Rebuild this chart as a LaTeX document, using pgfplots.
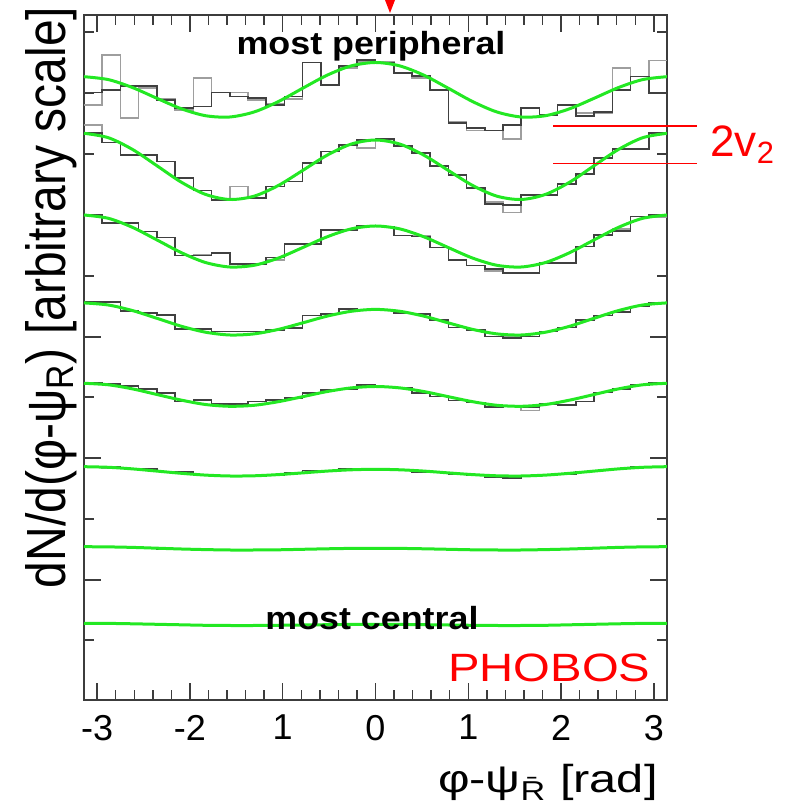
\documentclass[border=0pt]{standalone}
\usepackage{fontspec}
\setmainfont{Liberation Sans}
\usepackage{graphicx}
\usepackage{pgfplots}
\usepackage{pgfplotstable}
\pgfplotsset{compat=1.18}
\definecolor{fitgreen}{RGB}{35,232,35}
\definecolor{framegray}{RGB}{60,60,60}
\definecolor{annred}{RGB}{255,0,0}

% step histograms: left bin edges, dark (d) and light (l) histogram per centrality class
\pgfplotstableread{
x d1 l1 d2 l2 d3 l3 d4 l4 d5 l5 d6 l6 d7 l7 d8 l8
-3.1416 607.3 595.0 567.0 575.0 485.0 485.0 397.7 398.5 316.7 316.7 233.3 233.3 153.5 153.5 76.8 76.8
-2.9452 610.0 645.0 557.3 557.3 476.7 476.7 397.7 397.7 316.0 316.0 232.8 232.0 153.0 153.0 76.5 76.5
-2.7489 614.0 581.7 545.0 545.0 476.7 477.5 389.0 389.0 314.0 314.0 231.5 231.5 152.5 152.5 76.3 76.3
-2.5525 614.0 612.0 545.0 545.0 468.3 468.3 386.7 386.7 310.7 310.7 231.2 231.2 152.0 152.0 75.9 75.9
-2.3562 600.0 601.0 538.3 538.3 462.3 462.3 385.0 385.0 306.7 306.7 228.5 228.5 151.0 151.5 75.6 75.6
-2.1598 591.7 590.0 521.7 521.7 444.3 444.3 371.0 371.0 298.3 298.3 228.0 228.0 150.5 150.5 75.2 75.2
-1.9635 593.3 621.7 509.3 509.3 444.3 445.0 371.0 371.0 300.0 300.0 225.0 225.0 150.5 150.5 74.8 74.8
-1.7671 607.3 607.3 500.0 500.0 446.7 446.7 368.3 368.3 296.0 296.0 224.5 224.5 149.5 149.5 74.5 74.5
-1.5708 603.3 607.3 501.5 513.3 435.7 435.7 368.3 368.3 296.0 296.0 224.0 224.0 149.8 149.8 74.4 74.4
-1.3744 601.7 600.0 501.7 501.7 435.7 435.7 368.3 368.3 298.3 298.3 224.2 224.2 150.0 150.0 74.6 74.6
-1.1781 595.0 596.0 513.3 513.3 442.3 440.0 370.0 370.0 300.0 300.0 225.0 225.0 150.5 150.5 74.9 74.9
-0.9817 603.3 601.0 518.3 518.3 455.7 455.7 371.7 371.7 301.7 301.7 227.0 227.0 150.8 150.8 75.0 75.0
-0.7854 637.3 637.3 536.7 536.7 455.7 455.7 384.3 384.3 306.7 306.7 229.3 229.3 151.0 151.0 75.3 75.3
-0.5890 615.0 615.0 548.3 548.3 470.0 470.0 385.7 385.7 310.0 310.0 229.5 229.5 151.5 151.5 75.5 75.5
-0.3927 634.0 632.0 555.0 555.0 470.0 470.0 391.0 391.0 310.7 310.7 231.0 231.0 151.8 151.8 75.6 75.6
-0.1963 640.0 638.0 560.0 551.7 474.3 474.3 390.0 390.0 315.0 315.0 230.5 230.5 151.5 151.5 75.7 75.7
0.0000 636.7 638.0 560.7 560.7 473.3 473.3 390.0 390.0 312.7 312.7 231.0 231.0 151.8 151.8 75.7 75.7
0.1963 626.7 626.7 554.0 554.0 464.3 464.3 386.7 386.7 311.7 311.7 230.0 230.0 151.5 151.5 75.6 75.6
0.3927 624.0 622.0 546.7 546.7 463.3 464.3 385.7 385.7 306.7 306.7 228.0 228.0 151.0 151.0 75.4 75.4
0.5890 610.0 610.0 534.0 534.0 452.3 452.3 380.0 380.0 303.3 303.3 227.3 227.3 150.8 150.8 75.2 75.2
0.7854 576.7 578.0 525.0 525.0 440.0 440.0 372.3 372.3 299.3 299.3 226.0 226.0 150.5 150.5 75.0 75.0
0.9817 572.0 569.3 511.7 511.7 434.3 434.3 370.0 370.0 297.3 297.3 225.0 225.0 150.0 150.0 74.8 74.8
1.1781 569.3 569.3 496.0 498.0 431.0 429.0 363.3 363.3 292.7 292.7 223.0 223.0 149.8 149.8 74.5 74.5
1.3744 575.0 560.7 495.0 487.3 426.7 426.7 361.7 363.0 293.3 293.3 221.7 221.7 149.5 149.5 74.4 74.0
1.5708 591.7 591.7 505.0 505.0 426.7 426.7 363.3 363.3 293.0 289.3 223.5 223.5 150.0 150.0 74.5 74.5
1.7671 585.0 585.0 505.0 505.0 436.7 436.7 368.3 368.3 296.0 296.0 224.5 224.5 150.2 150.2 74.7 74.7
1.9635 595.0 595.0 516.0 516.0 436.7 436.7 372.3 372.3 295.0 295.0 226.0 226.0 150.8 150.8 75.0 75.0
2.1598 584.0 586.7 526.0 526.0 453.3 453.3 380.0 380.0 298.3 298.3 228.5 228.5 151.5 151.5 75.4 75.4
2.3562 588.0 586.7 541.7 541.7 465.0 465.0 384.3 384.3 307.3 307.3 229.5 229.5 152.0 152.0 75.8 75.8
2.5525 610.0 631.7 550.7 550.7 469.0 471.0 387.7 387.7 310.7 310.7 231.5 231.5 152.8 152.8 76.2 76.2
2.7489 623.3 623.3 550.7 550.7 483.3 483.3 393.3 393.3 315.0 315.0 232.7 232.7 153.0 153.0 76.5 76.5
2.9452 606.7 639.3 566.7 566.7 485.0 483.0 396.7 396.7 317.3 317.3 233.0 233.0 153.3 153.3 76.7 76.7
3.1416 606.7 639.3 566.7 566.7 485.0 483.0 396.7 396.7 317.3 317.3 233.0 233.0 153.3 153.3 76.7 76.7
}\hist

% fitted curves
\pgfplotstableread{
x c1 c2 c3 c4 c5 c6 c7 c8
-3.1416 623.3 566.7 485.0 397.1 316.7 233.3 153.3 76.7
-2.8798 620.4 562.3 481.7 395.0 315.2 232.7 153.1 76.6
-2.6180 612.4 550.5 472.6 389.4 311.1 231.1 152.6 76.2
-2.3562 601.7 534.3 460.1 381.7 305.5 228.9 151.8 75.7
-2.0944 591.3 517.9 447.4 373.8 299.9 226.7 151.0 75.2
-1.8326 584.3 505.6 437.5 367.8 295.5 224.9 150.4 74.7
-1.5708 583.0 500.5 433.0 365.0 293.7 224.0 150.0 74.5
-1.3090 588.0 503.8 434.7 366.1 294.7 224.2 150.0 74.5
-1.0472 598.4 514.5 441.9 370.6 298.3 225.4 150.2 74.7
-0.7854 611.7 529.5 452.4 377.1 303.3 227.1 150.7 75.0
-0.5236 624.7 544.7 463.1 383.8 308.4 228.9 151.2 75.3
-0.2618 634.1 555.9 471.1 388.7 312.1 230.2 151.6 75.6
0.0000 637.5 560.0 474.0 390.6 313.5 230.7 151.7 75.7
0.2618 634.1 555.9 471.1 388.7 312.1 230.2 151.6 75.6
0.5236 624.7 544.7 463.1 383.8 308.4 228.9 151.2 75.3
0.7854 611.7 529.5 452.4 377.1 303.3 227.1 150.7 75.0
1.0472 598.4 514.5 441.9 370.6 298.3 225.4 150.2 74.7
1.3090 588.0 503.8 434.7 366.1 294.7 224.2 150.0 74.5
1.5708 583.0 500.5 433.0 365.0 293.7 224.0 150.0 74.5
1.8326 584.3 505.6 437.5 367.8 295.5 224.9 150.4 74.7
2.0944 591.3 517.9 447.4 373.8 299.9 226.7 151.0 75.2
2.3562 601.7 534.3 460.1 381.7 305.5 228.9 151.8 75.7
2.6180 612.4 550.5 472.6 389.4 311.1 231.1 152.6 76.2
2.8798 620.4 562.3 481.7 395.0 315.2 232.7 153.1 76.6
3.1416 623.3 566.7 485.0 397.1 316.7 233.3 153.3 76.7
}\fits

\begin{document}
\begin{tikzpicture}
\path[use as bounding box] (0pt,0pt) rectangle (392.5pt,404pt);
\begin{axis}[
  at={(42pt,54pt)}, anchor=south west,
  scale only axis, width=291.5pt, height=342.5pt,
  xmin=-3.1416, xmax=3.1416, ymin=0, ymax=685,
  axis line style={framegray, line width=1pt},
  xtick={-3,-2,-1,0,1,2,3},
  xticklabels={-3,-2,1,0,1,2,3},
  minor x tick num=4,
  ytick={120,242,363,485},
  minor ytick={60,181,303,424,546,607,668},
  yticklabels={},
  major tick length=8.5pt, minor tick length=5pt,
  tick style={framegray, line width=0.7pt},
  xticklabel style={font=\fontsize{18}{20}\selectfont, yshift=-4pt},
]
\foreach \k in {1,...,8}{
  \addplot[black!38, line width=0.8pt, const plot] table[x=x,y=l\k]{\hist};
  \addplot[black!75, line width=0.8pt, const plot] table[x=x,y=d\k]{\hist};
}
\foreach \k in {1,...,8}{
  \addplot[fitgreen, line width=1.5pt, smooth] table[x=x,y=c\k]{\fits};
}
\end{axis}

\node[rotate=90, anchor=base, inner sep=0pt, font=\fontsize{24}{28}\selectfont]
  at (32.5pt,255.25pt) {\scalebox{1}[1.15]{dN/d(φ-ψ\textsubscript{R}) [arbitrary scale]}};
\node[anchor=base east, inner sep=0pt, font=\fontsize{19.5}{22}\selectfont]
  at (329pt,8pt) {\scalebox{1.25}[1]{φ-ψ\textsubscript{\=R} [rad]}};

\node[anchor=base, inner sep=0pt, font=\bfseries\fontsize{16}{18}\selectfont]
  at (185.5pt,376.5pt) {\scalebox{1.12}[1]{most peripheral}};
\node[anchor=base, inner sep=0pt, font=\bfseries\fontsize{16}{18}\selectfont]
  at (186pt,89pt) {\scalebox{1.12}[1]{most central}};

\node[anchor=base west, inner sep=0pt, text=annred, font=\fontsize{19.75}{22}\selectfont]
  at (224pt,63.15pt) {\scalebox{1.195}[1]{PHOBOS}};

\draw[annred, line width=0.7pt] (276.5pt,341pt) -- (348.5pt,341pt);
\draw[annred, line width=0.7pt] (276.5pt,322.25pt) -- (348.5pt,322.25pt);
\node[anchor=base west, inner sep=0pt, text=annred, font=\fontsize{22}{24}\selectfont]
  at (355pt,325.65pt) {2v\textsubscript{2}};

\fill[annred] (192.5pt,404pt) -- (197.5pt,404pt) -- (195pt,397.5pt) -- cycle;
\end{tikzpicture}
\end{document}
